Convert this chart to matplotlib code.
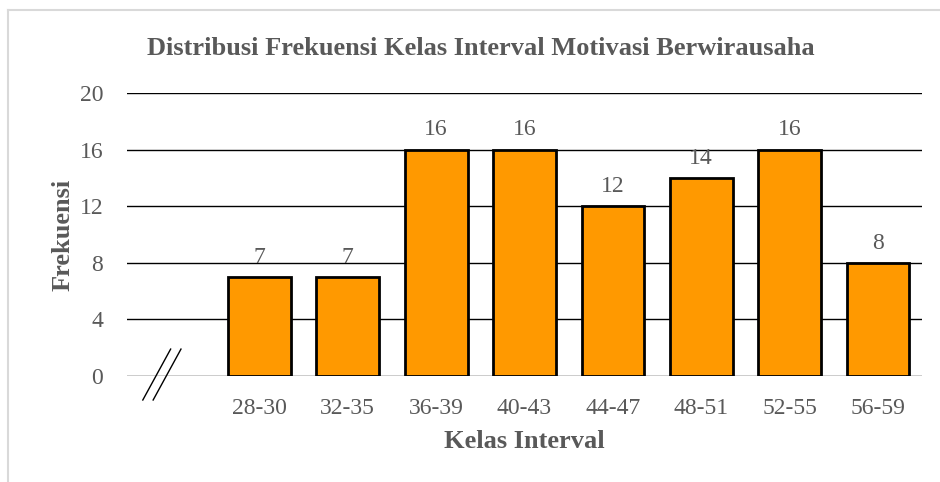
import matplotlib.pyplot as plt
from matplotlib.lines import Line2D

# data
kelas = ['', '28-30', '32-35', '36-39', '40-43', '44-47', '48-51', '52-55', '56-59']
frekuensi = [0, 7, 7, 16, 16, 12, 14, 16, 8]
yticks = [0, 4, 8, 12, 16, 20]

plt.rcParams['font.family'] = ['Liberation Serif', 'DejaVu Serif']
grey = '#595959'

fig = plt.figure(figsize=(9.4, 4.82), dpi=100)
ax = fig.add_axes([0.135, 0.22, 0.846, 0.587])

x = list(range(len(kelas)))
# first slot is the axis-break slot, no bar
ax.bar(x[1:], frekuensi[1:], width=0.71, color='#FF9900', edgecolor='black',
       linewidth=2, zorder=3)
for xi, v in zip(x[1:], frekuensi[1:]):
    ax.text(xi, v + 0.65, str(v), ha='center', va='bottom', fontsize=17, color=grey)

ax.set_xlim(-0.5, len(kelas) - 0.5)
ax.set_ylim(0, 20)
ax.set_yticks(yticks)
ax.set_xticks(x)
ax.set_xticklabels(kelas)
ax.tick_params(axis='both', length=0, labelsize=17, labelcolor=grey)
ax.tick_params(axis='x', pad=16)
ax.tick_params(axis='y', pad=17)
ax.grid(axis='y', color='black', linewidth=1, zorder=0)
for s in ax.spines.values():
    s.set_visible(False)

ax.set_xlabel('Kelas Interval', fontsize=19, fontweight='bold', color=grey, labelpad=8)
ax.set_ylabel('Frekuensi', fontsize=19, fontweight='bold', color=grey, labelpad=4)
fig.text(0.512, 0.9, 'Distribusi Frekuensi Kelas Interval Motivasi Berwirausaha',
         ha='center', va='center', fontsize=19, fontweight='bold', color=grey)

# axis break marks
for x0 in (0.020, 0.033):
    ax.plot([x0, x0 + 0.035], [-0.085, 0.095], color='black', lw=1,
            transform=ax.transAxes, clip_on=False)

# light grey frame (top and left)
fig.add_artist(Line2D([0.009, 1.0], [0.979, 0.979], color='#d9d9d9', lw=1.5))
fig.add_artist(Line2D([0.009, 0.009], [0.0, 0.979], color='#d9d9d9', lw=1.5))

fig.savefig('out.png', dpi=100)
